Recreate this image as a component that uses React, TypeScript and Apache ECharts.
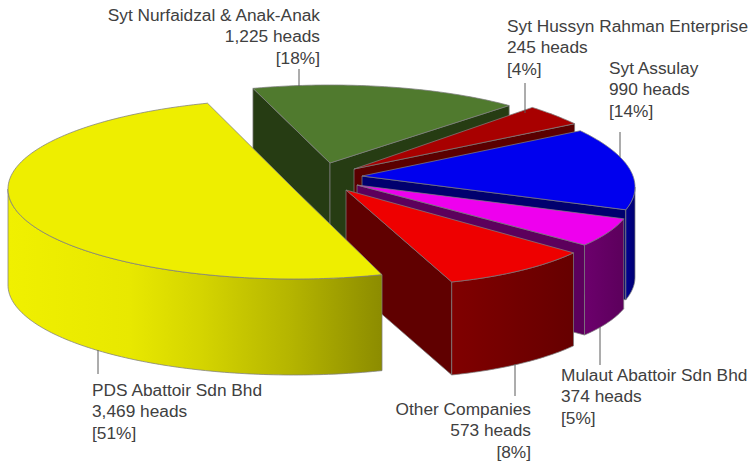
import React, { useEffect, useRef } from "react";
import * as echarts from "echarts";

const companies = ["Syt Nurfaidzal & Anak-Anak", "Syt Hussyn Rahman Enterprise", "Syt Assulay", "Mulaut Abattoir Sdn Bhd", "Other Companies", "PDS Abattoir Sdn Bhd"];
const heads = [1225, 245, 990, 374, 573, 3469];
const percents = [18, 4, 14, 5, 8, 51];

const topColors = ["#507a2e", "#a80000", "#0000ee", "#ee00ee", "#ee0000", "#eeee00"];
const cutColors = ["#263c13", "#5a0000", "#00006e", "#5c005c", "#600000", "#8c8c00"];
const wallColors: string[][] = [
  ["#263c13", "#263c13"],
  ["#5a0000", "#5a0000"],
  ["#000090", "#000070"],
  ["#6c006c", "#5c005c"],
  ["#800000", "#660000"],
  ["#f0f000", "#e8e800", "#d4d400", "#b5b500", "#8c8c00"],
];
const yellowStops = [1, 0.674, 0.48, 0.246, 0];

const START_ANGLE = -23.9;
const DEPTH = 92;
// apex x, apex y, radius x, radius y, tilt, start-angle shift, end-angle shift, depth
const geometry = [
  [330, 163, 265, 78, 0, 7, 2.3, 92],
  [354, 169, 276, 90, 11, 0, 0, 92],
  [362, 176, 273, 90, 11, 0, 0, 90],
  [357, 185, 276, 90, 11, 0, 0, 90],
  [346, 190, 276, 95, 11, 0, 3, 93],
  [294, 189, 286, 90, 0, 7.6, 6.3, 96],
];
// label x, first-line y, align, leader x, leader y0, leader y1
const labels: [number, number, string, number, number, number][] = [
  [320, 15, "right", 299, 69, 86],
  [507, 26, "left", 525, 83, 113],
  [609, 68, "left", 620, 132, 157],
  [561, 375, "left", 600, 327, 365],
  [531, 409, "right", 515, 364, 396],
  [92, 390, "left", 98, 350, 374],
];

const total = heads.reduce((a, b) => a + b, 0);
const EDGE = "rgba(125,125,125,0.75)";

function pt(g: number[], deg: number, dz = 0): number[] {
  const r = (deg * Math.PI) / 180;
  return [g[0] + g[2] * Math.sin(r), g[1] - g[3] * Math.cos(r) + g[4] * Math.sin(r) + dz];
}
function arc(g: number[], a: number, b: number, dz = 0): number[][] {
  const out: number[][] = [];
  const n = Math.max(2, Math.ceil(Math.abs(b - a)));
  for (let i = 0; i <= n; i++) out.push(pt(g, a + ((b - a) * i) / n, dz));
  return out;
}

function renderItem(params: any) {
  const i = params.dataIndex;
  const g = geometry[i];
  let cum = 0;
  for (let k = 0; k < i; k++) cum += heads[k];
  const a0 = START_ANGLE + (cum / total) * 360 + g[5];
  const a1 = START_ANGLE + ((cum + heads[i]) / total) * 360 + g[6];
  const depth = g[7] ?? DEPTH;
  const apex = [g[0], g[1]];
  const children: any[] = [];
  const poly = (points: number[][], fill: any) => ({
    type: "polygon",
    shape: { points },
    style: { fill, stroke: EDGE, lineWidth: 1 },
  });
  const cut = (deg: number) => {
    const c = pt(g, deg);
    return poly([apex, c, [c[0], c[1] + depth], [apex[0], apex[1] + depth]], cutColors[i]);
  };
  if (Math.sin((a0 * Math.PI) / 180) < 0) children.push(cut(a0));
  if (Math.sin((a1 * Math.PI) / 180) > 0) children.push(cut(a1));
  const w0 = Math.max(a0, 90);
  const w1 = Math.min(a1, 270);
  if (w1 > w0) {
    const stops = wallColors[i];
    const fill = new echarts.graphic.LinearGradient(
      1, 0, 0, 0,
      i === 5
        ? stops.map((color, k) => ({ offset: yellowStops[k], color })).reverse()
        : [{ offset: 0, color: stops[1] }, { offset: 1, color: stops[0] }]
    );
    children.push(poly([...arc(g, w0, w1), ...arc(g, w1, w0, depth)], fill));
  }
  children.push(poly([apex, ...arc(g, a0, a1)], topColors[i]));
  return { type: "group", children };
}

function renderLabel(params: any) {
  const i = params.dataIndex;
  const l = labels[i];
  const lines = [companies[i], `${heads[i].toLocaleString("en-US")} heads`, `[${percents[i]}%]`];
  return {
    type: "group",
    children: [
      { type: "line", shape: { x1: l[3], y1: l[4], x2: l[3], y2: l[5] }, style: { stroke: "#5a5a5a", lineWidth: 1 } },
      ...lines.map((t, k) => ({
        type: "text",
        x: l[0],
        y: l[1] + k * 21.3,
        style: { text: t, fill: "#404040", font: '17.3px "Liberation Sans", Arial, sans-serif', align: l[2], verticalAlign: "middle" },
      })),
    ],
  };
}

export default function App() {
  const ref = useRef<HTMLDivElement>(null);
  useEffect(() => {
    document.body.style.margin = "0";
    const chart = echarts.init(ref.current!, undefined, { renderer: "svg" });
    chart.setOption({
      animation: false,
      backgroundColor: "#ffffff",
      series: [
        { type: "custom", coordinateSystem: "none", renderItem: renderItem, data: heads, silent: true, z: 1 },
        { type: "custom", coordinateSystem: "none", renderItem: renderLabel, data: heads, silent: true, z: 2 },
      ],
    });
    return () => chart.dispose();
  }, []);
  return <div ref={ref} style={{ width: 752, height: 462 }} />;
}
